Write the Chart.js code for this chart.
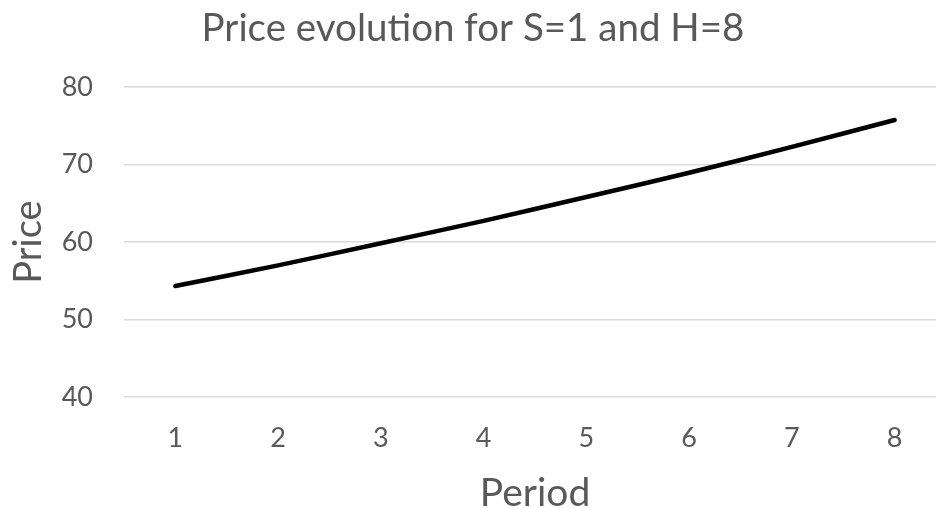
<!DOCTYPE html>
<html>
<head>
<meta charset="utf-8">
<script src="https://cdn.jsdelivr.net/npm/chart.js@4"></script>
<style>
  html, body { margin: 0; padding: 0; background: #fff; overflow: hidden; }
  #wrap { width: 936px; height: 508px; overflow: hidden; }
</style>
</head>
<body>
<div id="wrap"><canvas id="c" width="946" height="520"></canvas></div>
<script>
// Periods and simulated price path
const periods = ['1', '2', '3', '4', '5', '6', '7', '8'];
const prices = [54.33, 57.0, 59.85, 62.74, 65.82, 68.95, 72.3, 75.76];
const priceTicks = [40, 50, 60, 70, 80];

const FONT = 'Lato, "Open Sans", sans-serif';
const GREY = '#595959';

new Chart(document.getElementById('c'), {
  type: 'line',
  data: {
    labels: periods,
    datasets: [{
      label: 'Price',
      data: prices,
      borderColor: '#000',
      borderWidth: 4.5,
      borderCapStyle: 'round',
      borderJoinStyle: 'round',
      tension: 0.3,
      pointRadius: 0,
      fill: false
    }]
  },
  options: {
    responsive: false,
    animation: false,
    layout: { padding: { left: 0, right: 0, top: 5, bottom: 0 } },
    plugins: {
      legend: { display: false },
      tooltip: { enabled: false },
      title: {
        display: true,
        text: 'Price evolution for S=1 and H=8',
        color: GREY,
        font: { family: FONT, size: 38.5, weight: 'normal' },
        padding: { top: 0, bottom: 36 }
      }
    },
    scales: {
      x: {
        offset: true,
        grid: { display: false, drawTicks: false },
        border: { display: false },
        ticks: { color: GREY, font: { family: FONT, size: 27 }, padding: 25 },
        title: {
          display: true,
          text: 'Period',
          color: GREY,
          font: { family: FONT, size: 39 },
          padding: { top: 6, bottom: 3 }
        },
        afterFit: s => { s.height = 123; }
      },
      y: {
        min: 40,
        max: 80,
        afterBuildTicks: s => { s.ticks = priceTicks.map(v => ({ value: v })); },
        grid: { color: '#d9d9d9', lineWidth: 1.5, drawTicks: false },
        border: { display: false },
        ticks: { color: GREY, font: { family: FONT, size: 27 }, padding: 31 },
        title: {
          display: true,
          text: 'Price',
          color: GREY,
          font: { family: FONT, size: 38 },
          padding: { top: 6, bottom: 0 }
        },
        afterFit: s => { s.width = 124; }
      }
    }
  }
});
</script>
</body>
</html>
